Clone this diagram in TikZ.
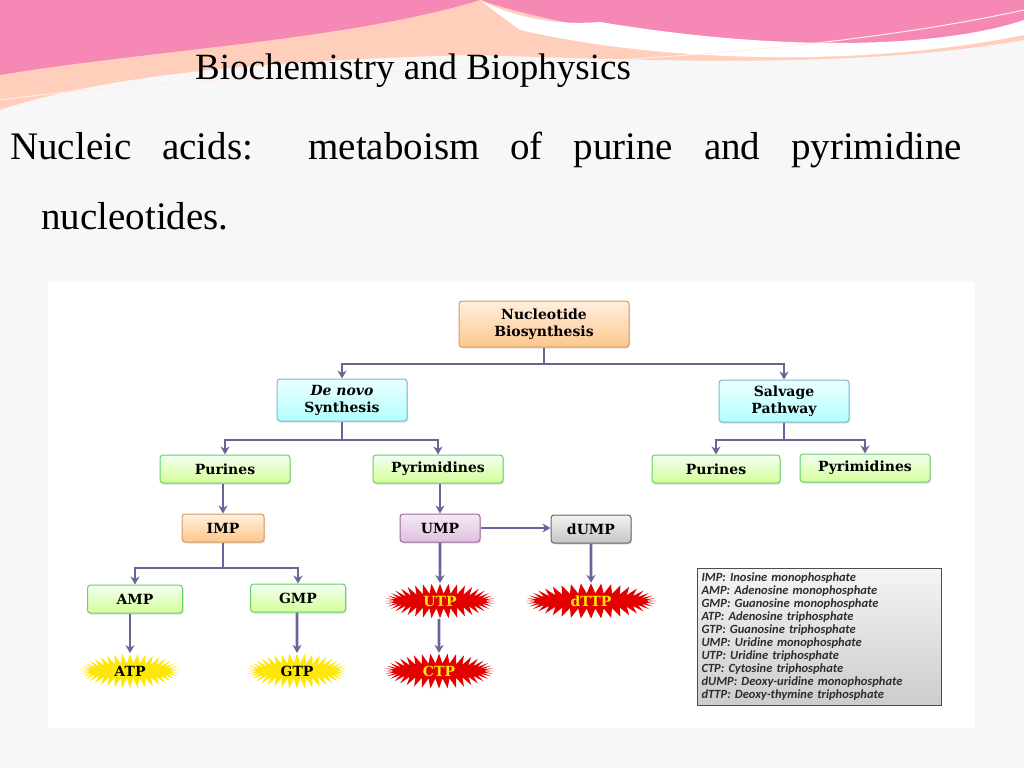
\documentclass[tikz,border=0pt]{standalone}
\usepackage{fontspec}
\setmainfont{Liberation Serif}
\newfontfamily\boxfont{DejaVu Serif}
\newfontfamily\legfont{Carlito}
\usetikzlibrary{shapes.symbols,arrows.meta,shadows}
\definecolor{conn}{HTML}{6A6598}
\tikzset{
 x=1pt,y=-1pt,
 box/.style={draw=#1!70!black!60, rounded corners=3pt, line width=1pt, minimum height=28pt, font=\boxfont\bfseries\fontsize{14}{17}\selectfont, align=center, drop shadow={opacity=0.25,shadow xshift=1pt,shadow yshift=-1.5pt}},
 orangebox/.style={box=orange, top color=orange!12, bottom color=orange!45},
 bluebox/.style={box=cyan, top color=cyan!8, bottom color=cyan!30},
 greenbox/.style={box=green, top color=green!5, bottom color=green!22!lime!40},
 lavbox/.style={box=violet, top color=violet!8, bottom color=violet!25},
 greybox/.style={box=black, top color=gray!10, bottom color=gray!45},
 burst/.style={starburst, starburst points=40, starburst point height=10pt, random starburst=0, font=\boxfont\bfseries\fontsize{14}{16}\selectfont, inner sep=0pt},
 redburst/.style={burst, fill=red!90!black, text=yellow!90!orange},
 yelburst/.style={burst, fill=yellow!90!orange, text=black},
 conn/.style={draw=conn, line width=2.8pt, -{Stealth[length=8pt,width=9pt]}},
 line/.style={draw=conn, line width=2.8pt},
}
\begin{document}
\begin{tikzpicture}
\useasboundingbox (0,0) rectangle (1024,768);
\fill[gray!6] (0,0) rectangle (1024,768);
% top waves
\fill[orange!25!pink!60] (0,0) -- (0,110) .. controls (120,70) and (300,60) .. (470,55) .. controls (650,60) and (850,70) .. (1024,40) -- (1024,0) -- cycle;
\fill[magenta!45!pink!80] (0,0) -- (0,75) .. controls (150,50) and (350,40) .. (480,0) -- cycle;
\fill[magenta!45!pink!80] (480,0) .. controls (600,40) and (800,60) .. (1024,30) -- (1024,0) -- cycle;
\fill[white] (480,0) .. controls (520,20) and (560,25) .. (600,22) .. controls (800,55) and (950,45) .. (1024,20) -- (1024,35) .. controls (850,70) and (650,60) .. (520,30) .. controls (500,15) and (490,8) .. (480,0) -- cycle;
\draw[white!70!pink, line width=1pt] (0,100) .. controls (300,60) and (700,80) .. (1024,10);
\node[font=\fontsize{37}{40}\selectfont, anchor=base] (hdr) at (413,79) {Biochemistry and Biophysics};
\node[font=\fontsize{39}{42}\selectfont, anchor=base west, inner sep=0pt] (t1) at (10,159) {\makebox[952pt][s]{Nucleic acids: metaboism of purine and pyrimidine}};
\node[font=\fontsize{39}{42}\selectfont, anchor=base west, inner sep=0pt] (t2) at (41,229) {nucleotides.};
% diagram panel
\fill[white] (48,282) rectangle (975,728);
% nodes
\node[orangebox, minimum width=170pt, minimum height=46pt] (nb) at (544,324) {Nucleotide\\Biosynthesis};
\node[bluebox, minimum width=130pt, minimum height=42pt] (dn) at (342,400) {\textit{De novo}\\Synthesis};
\node[bluebox, minimum width=130pt, minimum height=42pt] (sp) at (784,401) {Salvage\\Pathway};
\node[greenbox, minimum width=130pt] (pu1) at (225,469) {Purines};
\node[greenbox, minimum width=130pt] (py1) at (438,469) {Pyrimidines};
\node[greenbox, minimum width=128pt] (pu2) at (716,469) {Purines};
\node[greenbox, minimum width=130pt] (py2) at (865,468) {Pyrimidines};
\node[orangebox, minimum width=82pt] (imp) at (223,528) {IMP};
\node[lavbox, minimum width=80pt] (ump) at (440,528) {UMP};
\node[greybox, minimum width=80pt] (dump) at (591,529) {dUMP};
\node[greenbox, minimum width=95pt] (amp) at (135,599) {AMP};
\node[greenbox, minimum width=95pt] (gmp) at (298,598) {GMP};
\node[redburst, minimum width=110pt, minimum height=34pt] (utp) at (440,601) {UTP};
\node[redburst, minimum width=130pt, minimum height=34pt] (dttp) at (591,601) {dTTP};
\node[yelburst, minimum width=100pt, minimum height=34pt] (atp) at (130,671) {ATP};
\node[yelburst, minimum width=100pt, minimum height=34pt] (gtp) at (297,671) {GTP};
\node[redburst, minimum width=110pt, minimum height=34pt] (ctp) at (439,671) {CTP};
% legend
\node[draw=gray!60!black, line width=1pt, top color=gray!8, bottom color=gray!40, anchor=north west, minimum width=244pt, minimum height=137pt, inner sep=4pt, text width=236pt, align=left, font=\legfont\itshape\bfseries\fontsize{12.5}{13}\selectfont, text=gray!35!black] (leg) at (697,568) {IMP: Inosine monophosphate\\AMP: Adenosine monophosphate\\GMP: Guanosine monophosphate\\ATP: Adenosine triphosphate\\GTP: Guanosine triphosphate\\UMP: Uridine monophosphate\\UTP: Uridine triphosphate\\CTP: Cytosine triphosphate\\dUMP: Deoxy-uridine monophosphate\\dTTP: Deoxy-thymine triphosphate};
% connectors
\coordinate (b1) at (544,364);
\draw[line] (nb.south) -- (b1);
\draw[conn] (b1) -| (dn.north);
\draw[conn] (b1) -| (sp.north);
\coordinate (b2) at (342,440);
\draw[line] (dn.south) -- (b2);
\draw[conn] (b2) -| (pu1.north);
\draw[conn] (b2) -| (py1.north);
\coordinate (b3) at (784,440);
\draw[line] (sp.south) -- (b3);
\draw[conn] (b3) -| (pu2.north);
\draw[conn] (b3) -| (py2.north);
\draw[conn] (pu1.south -| imp) -- (imp.north);
\draw[conn] (py1.south -| ump) -- (ump.north);
\draw[conn] (ump.east) -- (ump.east -| dump.west);
\coordinate (b4) at (223,568);
\draw[line] (imp.south) -- (b4);
\draw[conn] (b4) -| (amp.north);
\draw[conn] (b4) -| (gmp.north);
\draw[conn] (ump.south) -- (utp.north);
\draw[conn] (dump.south) -- (dttp.north);
\draw[conn] (amp.south -| atp) -- (atp.north);
\draw[conn] (gmp.south -| gtp) -- (gtp.north);
\draw[conn] (utp.south -| ctp) -- (ctp.north);
\end{tikzpicture}
\end{document}
